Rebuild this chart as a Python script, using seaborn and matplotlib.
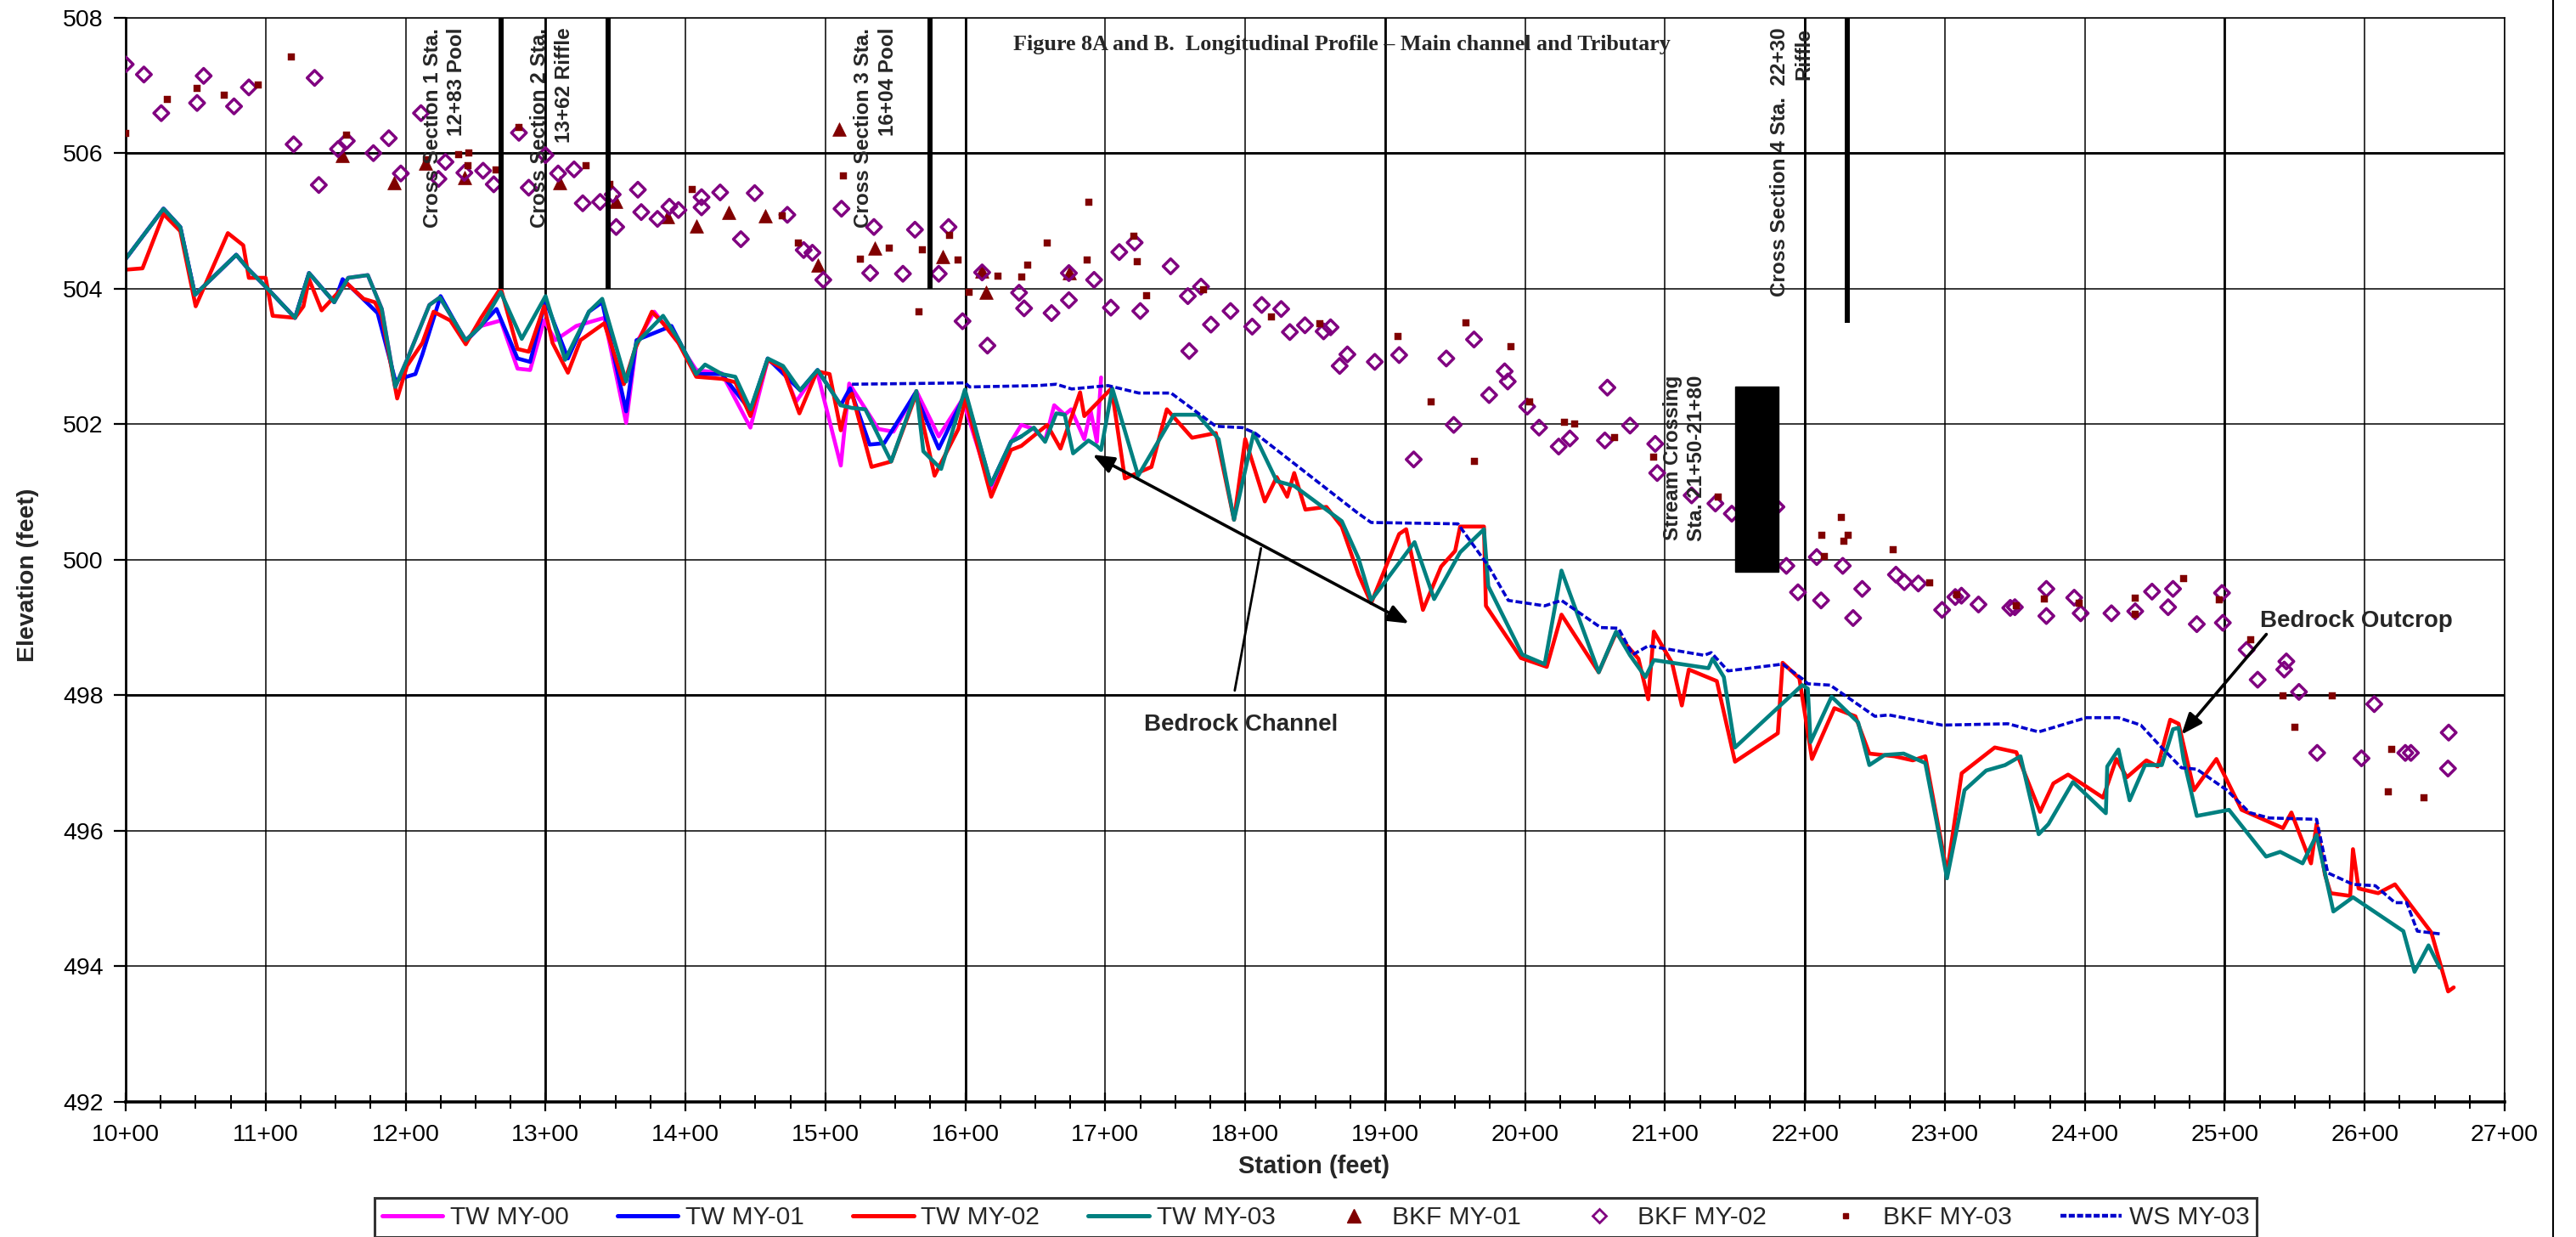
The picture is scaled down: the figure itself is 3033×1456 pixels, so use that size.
import numpy as np
import pandas as pd
import matplotlib
matplotlib.use("Agg")
import matplotlib.pyplot as plt
import seaborn as sns
from matplotlib.lines import Line2D
from matplotlib.patches import Rectangle
from matplotlib.ticker import MultipleLocator, FuncFormatter

# ---------------- data (station in feet, elevation in feet) ----------------
tw03_sta = [1000, 1027, 1039, 1049.5, 1079, 1088, 1100, 1121, 1131, 1149, 1159, 1173, 1183, 1192.6, 1201,
            1217, 1224.5, 1243, 1254, 1268, 1283, 1300, 1314, 1331, 1340.5, 1357.6, 1365, 1384, 1395,
            1407.7, 1414, 1426, 1435.6, 1446.4, 1458.8, 1469.7, 1482, 1494.4, 1511, 1519, 1528.5, 1547,
            1565, 1570, 1582.7, 1599.7, 1618.3, 1632.6, 1640, 1649, 1657, 1665, 1671, 1677, 1688, 1694,
            1697, 1705, 1723.5, 1749, 1766, 1781, 1792, 1806, 1822.5, 1835, 1869, 1880.8, 1890, 1921,
            1935, 1953.6, 1970.6, 1973.7, 1998, 2014, 2026, 2052.6, 2065, 2075, 2086, 2092, 2131, 2134,
            2142, 2150, 2198, 2202, 2204, 2219, 2238, 2246, 2257, 2270.5, 2286, 2294, 2301.5, 2314,
            2329.5, 2343, 2354, 2367, 2374, 2391.5, 2415, 2416, 2424, 2432, 2443, 2455, 2463, 2467,
            2470.5, 2480, 2503, 2529.5, 2539.6, 2555.6, 2565.6, 2577.6, 2591.6, 2627.6, 2635.6, 2645.6,
            2653.6]
tw03_elev = [504.44, 505.18, 504.91, 503.91, 504.50, 504.28, 504.03, 503.57, 504.23, 503.80, 504.16, 504.20,
             503.70, 502.55, 502.95, 503.76, 503.87, 503.24, 503.45, 503.95, 503.26, 503.89, 502.95, 503.66,
             503.85, 502.63, 503.20, 503.60, 503.25, 502.74, 502.88, 502.74, 502.70, 502.22, 502.97, 502.86,
             502.50, 502.80, 502.28, 502.24, 502.22, 501.45, 502.49, 501.60, 501.34, 502.51, 501.11, 501.74,
             501.82, 501.95, 501.74, 502.16, 502.14, 501.57, 501.76, 501.68, 501.62, 502.53, 501.24, 502.14,
             502.14, 501.78, 500.59, 501.87, 501.16, 501.09, 500.57, 500.03, 499.40, 500.26, 499.42, 500.11,
             500.45, 499.61, 498.60, 498.46, 499.84, 498.34, 498.94, 498.59, 498.27, 498.52, 498.40, 498.54,
             498.27, 497.23, 498.15, 498.10, 497.31, 497.98, 497.60, 496.97, 497.12, 497.14, 497.00, 496.14,
             495.30, 496.60, 496.89, 496.97, 497.10, 495.95, 496.10, 496.72, 496.26, 496.95, 497.20, 496.45,
             496.97, 496.97, 497.50, 497.52, 497.06, 496.22, 496.31, 495.62, 495.69, 495.52, 495.94, 494.81,
             495.02, 494.52, 493.92, 494.31, 493.98]

tw02_sta = [1000, 1012, 1027, 1039, 1050, 1073, 1084, 1088, 1100, 1105, 1121, 1127, 1131, 1140, 1158, 1170,
            1178, 1183, 1194, 1201, 1212, 1220, 1232, 1243, 1254, 1268, 1280, 1288, 1299, 1305, 1316, 1325,
            1342, 1356, 1364, 1376, 1384, 1395, 1407.7, 1426, 1435.6, 1446.4, 1458.8, 1469.7, 1481.4, 1494,
            1503, 1511, 1516, 1519, 1533, 1547, 1565, 1578, 1595, 1600, 1618.5, 1632.6, 1640, 1658.5, 1668,
            1682, 1685, 1704.5, 1714, 1733, 1744, 1762, 1779, 1792, 1800, 1814, 1822.5, 1830, 1835, 1843,
            1858, 1869, 1881, 1890, 1910, 1915, 1927, 1940, 1950, 1953.6, 1970.6, 1972, 1997, 2015.5, 2026,
            2052.6, 2065, 2081, 2088, 2092, 2105, 2112, 2117, 2137, 2150, 2180.6, 2184, 2196, 2205, 2221,
            2236, 2246, 2264, 2277, 2286, 2301.5, 2312, 2335.6, 2351, 2368, 2377.5, 2388, 2413, 2422.5,
            2430, 2444, 2452, 2461, 2467, 2478, 2494, 2512, 2541.6, 2547.6, 2561.6, 2565.6, 2571.6, 2575.6,
            2589.6, 2591.6, 2595.6, 2609.6, 2621.6, 2647.6, 2659.6, 2663.6]
tw02_elev = [504.28, 504.30, 505.10, 504.85, 503.74, 504.82, 504.64, 504.16, 504.16, 503.60, 503.57, 503.74,
             504.14, 503.68, 504.08, 503.85, 503.80, 503.60, 502.38, 502.86, 503.20, 503.66, 503.53, 503.18,
             503.57, 504.01, 503.11, 503.07, 503.74, 503.20, 502.76, 503.24, 503.49, 502.59, 503.11, 503.66,
             503.49, 503.20, 502.70, 502.67, 502.62, 502.12, 502.95, 502.82, 502.16, 502.78, 502.74, 501.91,
             502.37, 502.45, 501.37, 501.45, 502.45, 501.24, 501.93, 502.37, 500.93, 501.62, 501.68, 501.99,
             501.64, 502.47, 502.12, 502.53, 501.20, 501.37, 502.22, 501.80, 501.87, 500.59, 501.78, 500.86,
             501.22, 500.93, 501.28, 500.74, 500.78, 500.49, 499.78, 499.36, 500.38, 500.45, 499.26, 499.90,
             500.13, 500.49, 500.49, 499.32, 498.55, 498.42, 499.19, 498.34, 498.92, 498.54, 497.94, 498.94,
             498.48, 497.85, 498.38, 498.21, 497.02, 497.44, 498.48, 498.25, 497.06, 497.81, 497.69, 497.14,
             497.10, 497.04, 497.10, 495.38, 496.85, 497.23, 497.16, 496.28, 496.70, 496.83, 496.49, 497.06,
             496.79, 497.04, 496.95, 497.64, 497.58, 496.60, 497.06, 496.31, 496.04, 496.27, 495.52, 496.10,
             495.35, 495.08, 495.04, 495.73, 495.15, 495.08, 495.21, 494.50, 493.63, 493.69]

tw01_sta = [1000, 1027, 1039, 1049.5, 1079, 1088, 1100, 1121, 1131, 1149, 1155, 1180, 1192.6, 1207, 1212,
            1225, 1243, 1265, 1280, 1289, 1300, 1316, 1331, 1340.5, 1357.6, 1365, 1390, 1407.7, 1426,
            1446.4, 1458.8, 1482, 1494.4, 1511, 1517.6, 1531.6, 1542, 1564, 1581, 1600, 1618.3, 1632.6,
            1640]
tw01_elev = [504.44, 505.18, 504.91, 503.91, 504.50, 504.28, 504.03, 503.57, 504.23, 503.80, 504.14, 503.64,
             502.65, 502.74, 503.03, 503.89, 503.22, 503.70, 502.97, 502.92, 503.82, 502.97, 503.66, 503.80,
             502.19, 503.24, 503.45, 502.74, 502.74, 502.20, 502.97, 502.50, 502.80, 502.28, 502.53, 501.70,
             501.72, 502.45, 501.64, 502.45, 501.11, 501.74, 501.82]

tw00_sta = [1000, 1027, 1039, 1049.5, 1079, 1088, 1100, 1121, 1131, 1149, 1159, 1173, 1183, 1192.6, 1201,
            1217, 1224.5, 1243, 1254, 1268, 1280, 1289, 1299, 1307, 1322, 1342, 1357.6, 1365, 1377.7, 1395,
            1407.7, 1426, 1446.4, 1458.8, 1470, 1479, 1494, 1511, 1517, 1537.8, 1548.6, 1565, 1581, 1598,
            1618.5, 1632.6, 1640, 1649, 1657, 1663.5, 1671, 1675.6, 1685, 1689.5, 1694, 1697]
tw00_elev = [504.44, 505.18, 504.91, 503.91, 504.50, 504.28, 504.03, 503.57, 504.23, 503.80, 504.16, 504.20,
             503.70, 502.55, 502.95, 503.76, 503.87, 503.24, 503.45, 503.53, 502.82, 502.80, 503.53, 503.24,
             503.45, 503.57, 502.02, 503.20, 503.66, 503.20, 502.80, 502.75, 501.95, 502.95, 502.80, 502.33,
             502.78, 501.39, 502.60, 501.93, 501.89, 502.49, 501.82, 502.37, 501.03, 501.74, 501.99, 501.93,
             501.76, 502.28, 502.14, 502.22, 501.78, 502.20, 501.74, 502.69]

ws03_sta = [1519, 1600, 1603, 1652, 1665, 1676, 1702, 1724, 1747, 1779, 1798, 1807, 1881, 1890, 1952, 1974,
            1988, 2014, 2026, 2054, 2066.6, 2077, 2088, 2128, 2133, 2145, 2184, 2199, 2202, 2218, 2250,
            2260, 2298, 2345, 2367, 2401, 2424, 2440, 2453, 2469, 2480, 2501.5, 2517.6, 2531.6, 2565.6,
            2573.6, 2591.6, 2607.6, 2621.6, 2630, 2637.6, 2653.6]
ws03_elev = [502.59, 502.61, 502.55, 502.57, 502.59, 502.52, 502.57, 502.46, 502.46, 501.97, 501.95, 501.87,
             500.68, 500.55, 500.53, 499.90, 499.40, 499.32, 499.40, 499.00, 498.99, 498.60, 498.73, 498.59,
             498.63, 498.36, 498.46, 498.23, 498.17, 498.15, 497.69, 497.71, 497.56, 497.58, 497.46, 497.67,
             497.67, 497.56, 497.27, 496.93, 496.91, 496.60, 496.27, 496.19, 496.17, 495.38, 495.21, 495.19,
             494.94, 494.94, 494.52, 494.48]

bkf01_sta = [1155, 1192, 1214.5, 1242, 1310, 1350, 1387, 1407.7, 1431, 1457, 1494.4, 1510, 1535, 1584, 1612,
             1615, 1674]
bkf01_elev = [505.96, 505.56, 505.85, 505.64, 505.56, 505.29, 505.06, 504.93, 505.12, 505.08, 504.35, 506.36,
              504.60, 504.47, 504.26, 503.95, 504.24]

bkf02_sta = [1000, 1013, 1025.4, 1051, 1055.7, 1077.4, 1088, 1120, 1135, 1138, 1151.7, 1158, 1177, 1188,
             1196.6, 1211, 1223.5, 1228.5, 1242, 1255.4, 1263, 1281, 1288, 1300, 1309, 1320.4, 1326.6, 1339,
             1348, 1350.5, 1366, 1368.4, 1380, 1388.5, 1395, 1411.5, 1411.5, 1424.8, 1439.6, 1449.5, 1472.8,
             1484.5, 1490.7, 1498.5, 1511.5, 1534.7, 1532, 1555.4, 1564, 1581, 1588, 1598, 1612, 1615.8,
             1638.4, 1642, 1661.6, 1674, 1674, 1692, 1704, 1710, 1721, 1725, 1746.7, 1759, 1760, 1768.4,
             1775.5, 1789.5, 1805, 1811.8, 1825.7, 1831.9, 1842.7, 1856, 1861, 1867.5, 1873, 1892.6, 1910,
             1920.4, 1943.7, 1949, 1963.5, 1974.3, 1985.4, 1987.6, 2001.5, 2010, 2024, 2032, 2057, 2058.8,
             2075, 2093, 2094.4, 2119, 2136, 2147.7, 2179.6, 2186.7, 2195, 2208.4, 2211.5, 2227, 2234.4,
             2240.9, 2265, 2271, 2281, 2298, 2307.4, 2311.8, 2324, 2346.7, 2350, 2372.5, 2372.5, 2392.4,
             2397, 2419, 2436, 2448, 2459.5, 2463, 2480, 2498, 2498.6, 2515.6, 2523.5, 2542.5, 2544, 2553,
             2566, 2597.7, 2606.8, 2629, 2633, 2659.5, 2660]
bkf02_elev = [507.31, 507.16, 506.59, 506.74, 507.14, 506.69, 506.97, 506.13, 507.11, 505.53, 506.06, 506.18,
              506.00, 506.22, 505.70, 506.59, 505.62, 505.87, 505.71, 505.74, 505.54, 506.30, 505.49, 505.97,
              505.70, 505.76, 505.26, 505.28, 505.39, 504.91, 505.46, 505.13, 505.03, 505.21, 505.16, 505.35,
              505.20, 505.42, 504.73, 505.41, 505.09, 504.57, 504.53, 504.13, 505.18, 504.91, 504.23, 504.22,
              504.87, 504.22, 504.91, 503.52, 504.24, 503.16, 503.94, 503.71, 503.64, 504.23, 503.83, 504.13,
              503.72, 504.54, 504.68, 503.67, 504.33, 503.89, 503.08, 504.03, 503.47, 503.67, 503.44, 503.76,
              503.70, 503.36, 503.46, 503.37, 503.43, 502.86, 503.03, 502.92, 503.02, 501.48, 502.97, 501.99,
              503.25, 502.43, 502.78, 502.63, 502.26, 501.95, 501.67, 501.79, 501.76, 502.54, 501.98, 501.71,
              501.28, 500.95, 500.83, 500.68, 500.78, 499.91, 499.52, 500.04, 499.40, 499.91, 499.14, 499.57,
              499.78, 499.67, 499.65, 499.26, 499.45, 499.47, 499.34, 499.29, 499.30, 499.57, 499.17, 499.44,
              499.21, 499.21, 499.24, 499.53, 499.30, 499.57, 499.05, 499.51, 499.07, 498.67, 498.23, 498.38,
              498.50, 498.05, 497.15, 497.07, 497.87, 497.15, 497.15, 496.92, 497.45]

bkf03_sta = [1000, 1030, 1051, 1070.6, 1094.4, 1118.6, 1158, 1215, 1237.8, 1244.5, 1245, 1264.7, 1281, 1328.8,
             1346, 1404.6, 1469, 1480.5, 1513, 1524.8, 1545.5, 1567, 1569.3, 1588.8, 1595, 1602.8, 1623.5,
             1640, 1644.6, 1658.5, 1687, 1688, 1720.4, 1723, 1729.7, 1770, 1818.7, 1853.6, 1909.3, 1932.8,
             1958, 1963.8, 1989.8, 2003, 2027.9, 2035.6, 2064, 2092, 2137.8, 2212, 2213.6, 2226, 2227.6,
             2230.7, 2263, 2288.9, 2308.7, 2350.8, 2371, 2396, 2435.7, 2436, 2470.8, 2496, 2518.4, 2541.6,
             2550, 2577, 2617, 2619, 2642.5]
bkf03_elev = [506.29, 506.79, 506.96, 506.86, 507.01, 507.42, 506.27, 505.90, 505.98, 505.81, 506.00, 505.75,
              506.38, 505.82, 505.54, 505.46, 505.08, 504.68, 505.67, 504.44, 504.60, 503.66, 504.57, 504.79,
              504.42, 503.95, 504.19, 504.17, 504.35, 504.68, 504.42, 505.28, 504.77, 504.40, 503.90, 503.98,
              503.58, 503.48, 503.30, 502.33, 503.49, 501.45, 503.15, 502.33, 502.03, 502.00, 501.80, 501.52,
              500.93, 500.36, 500.05, 500.62, 500.27, 500.36, 500.15, 499.66, 499.48, 499.32, 499.42, 499.36,
              499.19, 499.44, 499.72, 499.41, 498.82, 497.99, 497.53, 497.99, 496.58, 497.20, 496.49]

legend_labels = ["TW MY-00", "TW MY-01", "TW MY-02", "TW MY-03", "BKF MY-01", "BKF MY-02", "BKF MY-03",
                 "WS MY-03"]

# cross-section reference lines (station, lower elevation)
xsec_sta = [1268, 1345, 1575, 2230]
xsec_low = [504.0, 504.0, 504.0, 503.5]
xsec_labels = ["Cross Section 1 Sta.\n12+83 Pool", "Cross Section 2 Sta.\n13+62 Riffle",
               "Cross Section 3 Sta.\n16+04 Pool", "Cross Section 4 Sta.  22+30\nRiffle"]
xsec_label_sta = [1228, 1304.6, 1535.8, 2190.5]
crossing_sta = [2150, 2181]
crossing_elev = [499.82, 502.55]

# ---------------- styling ----------------
sns.set_theme(style="white")
plt.rcParams['font.family'] = ['Liberation Sans', 'DejaVu Sans']

C00, C01, C02, C03 = "#FF00FF", "#0000FF", "#FF0000", "#008080"
CTRI, CDIA, CSQ, CWS = "#800000", "#800080", "#800000", "#0000CC"

fig = plt.figure(figsize=(30.33, 14.56), dpi=100)
ax = fig.add_axes([0.0488, 0.1092, 0.92351, 0.87658])
ax.set_facecolor("white")

ax.set_xlim(1000, 2700)
ax.set_ylim(492, 508)
ax.xaxis.set_major_locator(MultipleLocator(100))
ax.xaxis.set_minor_locator(MultipleLocator(25))
ax.yaxis.set_major_locator(MultipleLocator(2))
ax.xaxis.set_major_formatter(FuncFormatter(lambda v, p: f"{int(round(v)) // 100}+{int(round(v)) % 100:02d}"))
ax.yaxis.set_major_formatter(FuncFormatter(lambda v, p: f"{int(round(v))}"))

ax.set_axisbelow(True)
ax.grid(True, which="major", color="black", linewidth=1.1)
for xv in [1300, 1600, 1900, 2200, 2500]:
    ax.axvline(xv, color="black", linewidth=2.0, zorder=0.6)
for yv in [498, 506]:
    ax.axhline(yv, color="black", linewidth=2.0, zorder=0.6)

for side, lw in [("left", 2.0), ("bottom", 2.6), ("top", 1.1), ("right", 1.1)]:
    ax.spines[side].set_visible(True)
    ax.spines[side].set_color("black")
    ax.spines[side].set_linewidth(lw)

ax.tick_params(axis="x", which="major", direction="inout", length=16, width=1.6, colors="black",
               labelsize=20.5, pad=11, bottom=True)
ax.tick_params(axis="x", which="minor", direction="inout", length=12, width=1.4, colors="black", bottom=True)
ax.tick_params(axis="y", which="major", direction="out", length=10, width=1.6, colors="black",
               labelsize=20.5, pad=9, left=True)
for lab in ax.get_xticklabels() + ax.get_yticklabels():
    lab.set_color("black")


def draw_line(x, y, color, lw, z, **kw):
    df = pd.DataFrame({"Station": x, "Elevation": y})
    sns.lineplot(data=df, x="Station", y="Elevation", ax=ax, color=color, linewidth=lw,
                 sort=False, estimator=None, legend=False, zorder=z, **kw)


draw_line(tw00_sta, tw00_elev, C00, 3.3, 2.0)
draw_line(tw01_sta, tw01_elev, C01, 3.3, 2.1)
draw_line(tw02_sta, tw02_elev, C02, 3.3, 2.2)
draw_line(tw03_sta, tw03_elev, C03, 3.3, 2.3)
draw_line(ws03_sta, ws03_elev, CWS, 2.6, 2.4, dashes=False)
ax.lines[-1].set_linestyle((0, (2.2, 0.9)))

sns.scatterplot(x=bkf01_sta, y=bkf01_elev, ax=ax, marker="^", s=130, color=CTRI, edgecolor=CTRI,
                linewidth=0.5, zorder=3, legend=False)
sns.scatterplot(x=bkf02_sta, y=bkf02_elev, ax=ax, marker="D", s=80, facecolor="none", edgecolor=CDIA,
                linewidth=2.5, zorder=3.1, legend=False)
sns.scatterplot(x=bkf03_sta, y=bkf03_elev, ax=ax, marker="s", s=26, color=CSQ, edgecolor=CSQ,
                linewidth=0.3, zorder=3.2, legend=False)

# cross-section lines and stream-crossing block
ax.vlines(xsec_sta, xsec_low, [508] * len(xsec_sta), colors="black", linewidth=4.3, zorder=4)
ax.add_patch(Rectangle((crossing_sta[0], crossing_elev[0]), crossing_sta[1] - crossing_sta[0],
                       crossing_elev[1] - crossing_elev[0], color="black", zorder=4))

for s, xs in zip(xsec_labels, xsec_label_sta):
    ax.text(xs, 507.85, s, rotation=90, ha="center", va="top", multialignment="right",
            fontsize=17.5, fontweight="bold", linespacing=1.3, zorder=5)
ax.text(2114, 502.72, "Stream Crossing\nSta. 21+50-21+80", rotation=90, ha="center", va="top",
        multialignment="right", fontsize=17.5, fontweight="bold", linespacing=1.3, zorder=5)

ax.text(1869, 507.6, "Figure 8A and B.  Longitudinal Profile \u2013 Main channel and Tributary",
        ha="center", va="center", fontsize=18.8, fontweight="bold", family=["Liberation Serif", "DejaVu Serif"],
        zorder=5)

# annotations
ax.text(1796.7, 497.56, "Bedrock Channel", ha="center", va="center", fontsize=20, fontweight="bold", zorder=5)
ax.annotate("", xy=(1691, 501.55), xytext=(1917, 499.06),
            arrowprops=dict(arrowstyle="<|-|>,head_length=0.75,head_width=0.3", color="black", lw=2.6,
                            shrinkA=0, shrinkB=0, mutation_scale=20), zorder=5)
ax.annotate("", xy=(1811.3, 500.17), xytext=(1792.5, 498.07),
            arrowprops=dict(arrowstyle="-", color="black", lw=2.0, shrinkA=0, shrinkB=0), zorder=5)
ax.text(2594, 499.1, "Bedrock Outcrop", ha="center", va="center", fontsize=20, fontweight="bold", zorder=5)
ax.annotate("", xy=(2469, 497.42), xytext=(2529.7, 498.9),
            arrowprops=dict(arrowstyle="-|>,head_length=0.75,head_width=0.3", color="black", lw=2.6,
                            shrinkA=0, shrinkB=0, mutation_scale=20), zorder=5)

# axis titles
fig.text(1547 / 3033, 1 - 1373 / 1456, "Station (feet)", ha="center", va="center", fontsize=21,
         fontweight="bold")
fig.text(33 / 3033, 1 - 677 / 1456, "Elevation (feet)", ha="center", va="center", rotation=90, fontsize=20.5,
         fontweight="bold")
ax.set_xlabel("")
ax.set_ylabel("")

# right border line of the chart area
fig.add_artist(Line2D([3006 / 3033, 3006 / 3033], [0, 1], transform=fig.transFigure, color="black", lw=1.5))

# legend
handles = [
    Line2D([], [], color=C00, lw=3.6),
    Line2D([], [], color=C01, lw=3.6),
    Line2D([], [], color=C02, lw=3.6),
    Line2D([], [], color=C03, lw=3.6),
    Line2D([], [], color=CTRI, marker="^", ls="", ms=11),
    Line2D([], [], color=CDIA, marker="D", ls="", ms=8, mfc="none", mew=2.0),
    Line2D([], [], color=CSQ, marker="s", ls="", ms=5),
    Line2D([], [], color=CWS, lw=3.2, ls=(0, (1.6, 0.6))),
]
leg = fig.legend(handles, legend_labels, loc="upper center", bbox_to_anchor=(0.5107, 1 - 1410 / 1456),
                 ncol=8, frameon=True, fontsize=21.5, handlelength=2.4, handletextpad=0.3, columnspacing=1.9,
                 borderpad=0.3, borderaxespad=0, fancybox=False)
leg.get_frame().set_edgecolor("black")
leg.get_frame().set_linewidth(2.2)

fig.savefig("out.png", dpi=100, facecolor="white")
